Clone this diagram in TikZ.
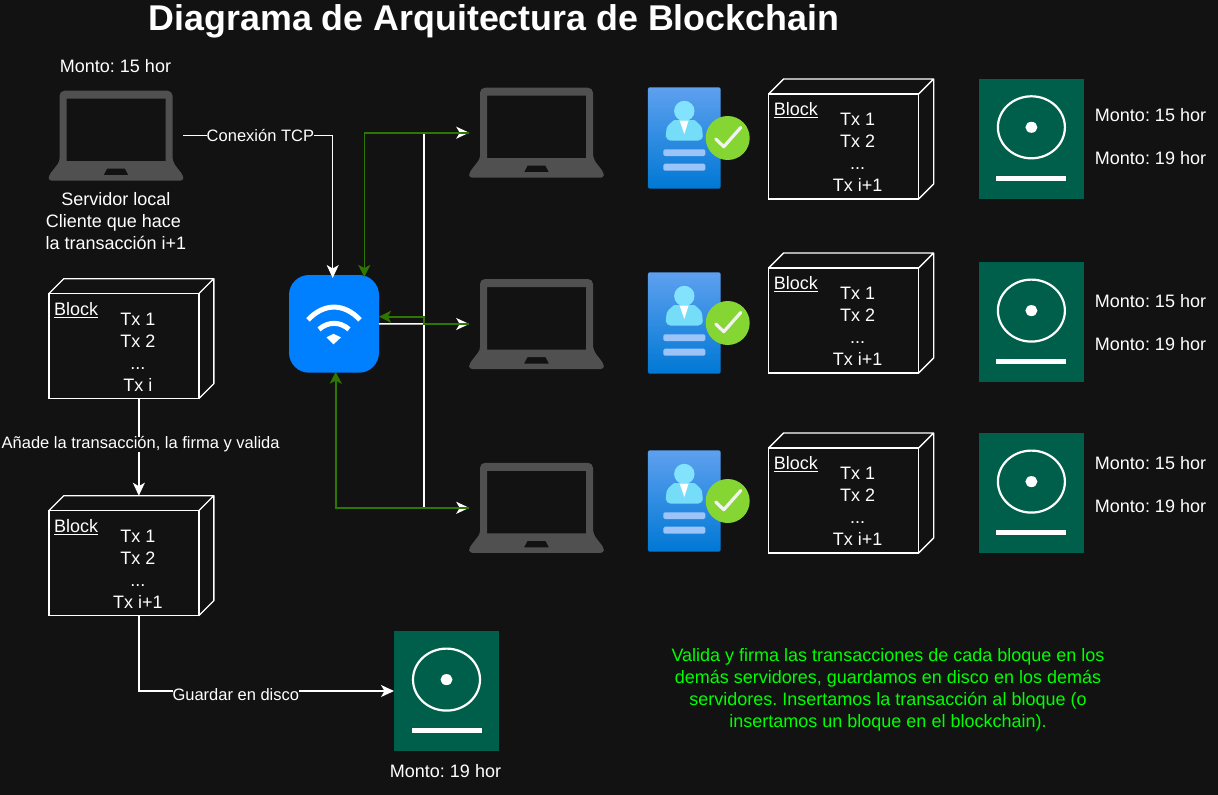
\documentclass[tikz,border=0pt]{standalone}
\usepackage{fontspec}
\setmainfont{Liberation Sans}
\frenchspacing
\usetikzlibrary{arrows.meta, calc}
\definecolor{bgdark}{HTML}{121212}
\definecolor{lapgray}{HTML}{505050}
\definecolor{wifiblue}{HTML}{007FFF}
\definecolor{diskgreen}{HTML}{005F4B}
\definecolor{linkgreen}{HTML}{2D7600}
\definecolor{notegreen}{HTML}{00FF00}
\begin{document}
\begin{tikzpicture}[
  x=1pt, y=-1pt,
  txt/.style={text=white, font=\fontsize{18}{22}\selectfont, align=center, inner sep=0pt},
  lbl/.style={text=white, font=\fontsize{16.5}{19}\selectfont, fill=bgdark, inner sep=0pt},
  wire/.style={draw=white, line width=1.4pt, -{Stealth[length=13pt, width=12pt, inset=3.5pt]}},
  greenwire/.style={draw=linkgreen, line width=1.6pt, -{Stealth[length=12pt, width=12pt, inset=3pt]}},
  iconbox/.style 2 args={minimum width=#1, minimum height=#2, inner sep=0pt, outer sep=0pt},
  pics/laptop/.style={code={
    \node[iconbox={134.6pt}{90pt}] (-box) at (0,0) {};
    \fill[lapgray, even odd rule, rounded corners=2pt]
      [rounded corners=5pt] (-56.5,26) -- (-56.5,-45) -- (56.5,-45) -- (56.5,26)
      [rounded corners=3pt] -- (67.3,40) -- (67.3,45) -- (-67.3,45) -- (-67.3,40) -- cycle
      [sharp corners] (-49.5,-37) rectangle (49.5,25.5)
      (-9,33) -- (9,33) -- (12.5,39.5) -- (-12.5,39.5) -- cycle;
  }},
  pics/blockbox/.style={code={
    % front face, then the top and side edges
    \node[iconbox={150pt}{105pt}, draw=white, line width=1.3pt] (-front) at (0,0) {};
    \draw[white, line width=1.3pt, line join=round] (-75,-52.5) -- (-60,-67.5) -- (90,-67.5) -- (90,37.5) -- (75,52.5)
      (75,-52.5) -- (90,-67.5);
    \coordinate (-in) at (15,-67.5);
    \coordinate (-out) at (15,52.5);
    \node[txt, anchor=west] (-title) at (-70,-36) {\underline{Block}};
    \node[txt] (-list) at (14,6.2) {#1};
  }},
  pics/disk/.style={code={
    \node[iconbox={105pt}{120pt}, fill=diskgreen] (-box) at (0,0) {};
    \draw[white, line width=2.2pt] (0,-11.4) ellipse [x radius=33.5, y radius=31];
    \fill[white] (0,-11.4) ellipse [x radius=6, y radius=5.5];
    \fill[white] (-35,37.3) rectangle (35,42.3);
  }},
  pics/idcard/.style={code={
    \node[iconbox={72.7pt}{101.4pt}, rounded corners=2pt, top color=cardtop, bottom color=cardbot] (-box) at (0,0) {};
    \fill[cardbar, rounded corners=1.5pt] (-21,11.3) rectangle (21,18) (-21,25.7) rectangle (21,32.7);
    \fill[bodytop] (0,-27) circle (10.2);
    \fill[bodylow, rounded corners=5pt] (-18.5,2.7) -- (-18.5,-5) .. controls (-17,-13) and (-10,-18) .. (-5,-18)
      -- (5,-18) .. controls (10,-18) and (17,-13) .. (18.5,-5) -- (18.5,2.7) -- cycle;
    \fill[white] (-4.7,-17.5) -- (4.3,-17.5) -- (0,-4) -- cycle;
    \fill[checkgreen] (43.4,0) circle (22);
    \draw[white!95!black, line width=3.2pt, line cap=round, line join=round] (31.5,1) -- (39.5,8.7) -- (56.5,-10.5);
  }}
]
  \definecolor{cardtop}{HTML}{5EA0EF}
  \definecolor{cardbot}{HTML}{0078D4}
  \definecolor{cardbar}{HTML}{9CC4F8}
  \definecolor{bodytop}{HTML}{83E3FF}
  \definecolor{bodylow}{HTML}{75DDF8}
  \definecolor{checkgreen}{HTML}{86D633}

  \fill[bgdark] (0,0) rectangle (1218,795);
  \useasboundingbox (0,0) rectangle (1218,795);

  \node[text=white, font=\fontsize{35.8}{40}\bfseries\selectfont, inner sep=0pt] (title) at (494,21.5) {Diagrama de Arquitectura de Blockchain};

  % Local server column
  \node[txt] (amount0) at (115.5,66) {Monto: 15 hor};
  \pic (lap0) at (116,135.7) {laptop};
  \node[txt] (client) at (116,221) {Servidor local\\Cliente que hace\rule{5pt}{0pt}\\la transacción i+1};
  \pic (block1) at (123.85,346.2) {blockbox={Tx 1\\Tx 2\\...\\Tx i}};
  \pic (block2) at (123.85,563.2) {blockbox={Tx 1\\Tx 2\\...\\Tx i+1}};
  \pic (disk0) at (446.5,691) {disk};
  \node[txt] (amount1) at (445.5,771) {Monto: 19 hor};

  % Router
  \node[iconbox={90pt}{97.7pt}, fill=wifiblue, rounded corners=20pt] (wifi) at (334,323.85) {};
  \begin{scope}[shift={(wifi.center)}, white, line width=5pt]
    \draw (-26,-4) .. controls (-10,-21) and (10,-21) .. (26,-4);
    \draw (-15,5.5) .. controls (-6,-2.5) and (6,-2.5) .. (15,5.5);
    \fill (-7.5,13.5) -- (-0.5,10) -- (7,13.5) -- (-0.5,20.5) -- cycle;
  \end{scope}

  % Remote servers
  \pic (lap1) at (536.5,132.7) {laptop};
  \pic (lap2) at (536.5,324) {laptop};
  \pic (lap3) at (536.5,507.8) {laptop};
  \pic (card1) at (684.3,138) {idcard};
  \pic (card2) at (684.3,323) {idcard};
  \pic (card3) at (684.3,501) {idcard};
  \pic (block3) at (843.7,146.4) {blockbox={Tx 1\\Tx 2\\...\\Tx i+1}};
  \pic (block4) at (843.7,320.4) {blockbox={Tx 1\\Tx 2\\...\\Tx i+1}};
  \pic (block5) at (843.7,500.4) {blockbox={Tx 1\\Tx 2\\...\\Tx i+1}};
  \pic (disk1) at (1031.4,138.7) {disk};
  \pic (disk2) at (1031.4,322) {disk};
  \pic (disk3) at (1031.4,493) {disk};
  \node[txt] (amount2) at (1150.5,115) {Monto: 15 hor};
  \node[txt] (amount3) at (1150.5,158) {Monto: 19 hor};
  \node[txt] (amount4) at (1150.5,301) {Monto: 15 hor};
  \node[txt] (amount5) at (1150.5,344) {Monto: 19 hor};
  \node[txt] (amount6) at (1150.5,463) {Monto: 15 hor};
  \node[txt] (amount7) at (1150.5,506) {Monto: 19 hor};

  \node[text=notegreen, font=\fontsize{18}{22}\selectfont, align=center, inner sep=0pt] (note) at (888,689.5)
    {Valida y firma las transacciones de cada bloque en los\\demás servidores, guardamos en disco en los demás\\servidores. Insertamos la transacción al bloque (o\\insertamos un bloque en el blockchain).};

  % White flows
  \coordinate (hub) at (424,324);
  \draw[wire] (lap0-box.east) -| node[lbl, pos=0.258] (tcp) {Conexión TCP} ($(wifi.north)+(-1.3,3)$);
  \draw[wire] (wifi.east) -- (lap2-box.west);
  \draw[wire] (hub) |- (lap1-box.west);
  \draw[wire] (hub) |- (lap3-box.west);
  \draw[wire] (block1-out) -- node[lbl, pos=0.47, xshift=1.8pt] (sign) {Añade la transacción, la firma y valida} (block2-in);
  \draw[wire] (block2-out) |- node[lbl, pos=0.69, yshift=-4pt] (save) {Guardar en disco} (disk0-box.west);

  % Green flows
  \draw[greenwire] (lap1-box.west) -| ($(wifi.north)+(30.3,2)$);
  \draw[greenwire] (lap2-box.west) -- (hub) -- (424,316.7) -- (wifi.east |- 0,316.7);
  \draw[greenwire] (lap3-box.west) -| ($(wifi.south)+(1.7,-1)$);
\end{tikzpicture}
\end{document}
